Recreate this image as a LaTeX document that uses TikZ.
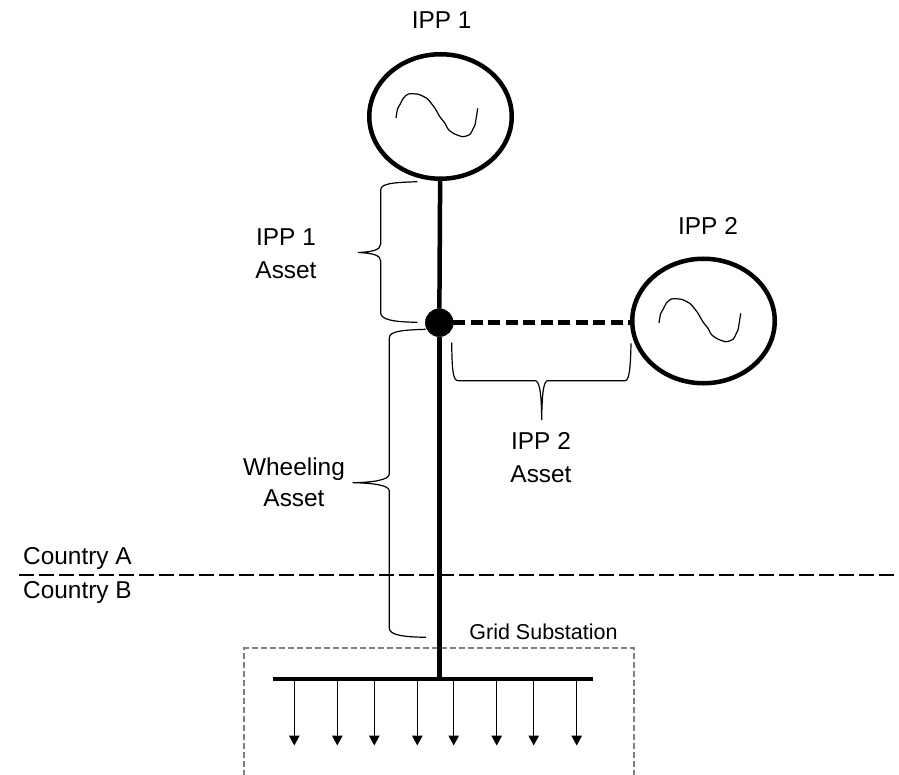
\documentclass[tikz,border=0pt]{standalone}
\usepackage{fontspec}
\setmainfont{Liberation Sans}
\usetikzlibrary{arrows.meta,shapes.geometric}
\definecolor{boxgray}{gray}{0.5}
\newcommand\SineShiftX{263}
\newcommand\SineShiftY{205}
\newcommand\SineWave{
    plot[smooth,tension=0.45] coordinates {(396,118) (397.5,109) (400,104.5) (403.3,98.3) (408.3,94) (418.3,94.3) (426.7,98.3) (431,103) (435,108.3) (440,117) (445,123.3) (448,129) (453.3,133.3) (462.7,136.7) (470,134.3) (473,129) (475,125) (477.7,108.3)}
}
\tikzset{
  generator/.style={
    shape = ellipse,
    draw,
    line width = 4.5pt,
    inner sep = 0pt,
    outer sep = 0pt,
    minimum width = 142.5pt,
    minimum height = 124.5pt
  },
  junction/.style={
    shape = circle,
    draw,
    fill,
    inner sep = 0pt,
    outer sep = 0pt,
    minimum size = 28pt
  },
  busbar/.style={
    shape = rectangle,
    fill,
    inner sep = 0pt,
    outer sep = 0pt,
    minimum width = 320pt,
    minimum height = 4.5pt
  },
  feeder/.style={line width = 4.5pt},
  spur/.style={line width = 4.5pt, dash pattern = on 12pt off 5.5pt},
  sine/.style={line width = 1.2pt},
  bracket/.style={line width = 1.2pt, rounded corners = 0pt},
  load/.style={line width = 1.3pt, -{Triangle[length=10pt,width=10.5pt]}},
  border/.style={line width = 1.3pt, dash pattern = on 15pt off 5pt},
  substation/.style={draw = boxgray, line width = 1.4pt, dash pattern = on 6pt off 3pt},
  label/.style={
    font = \fontsize{24.4}{33}\selectfont,
    align = center,
    inner sep = 0pt
  },
  smalllabel/.style={
    font = \fontsize{21.5}{26}\selectfont,
    inner sep = 0pt
  }
}
\begin{document}
\begin{tikzpicture}[x=1pt,y=-1pt]
    \useasboundingbox (0,0) rectangle (899,775);

    \draw[substation] (244,775.5) rectangle (634,648);

    \node[generator] (gen1) at (440.5,116.5) {};
    \node[generator] (gen2) at (703.5,321) {};
    \node[junction] (bus1) at (439.3,322.7) {};
    \node[busbar] (bus2) at (433,679) {};

    \draw[feeder] (gen1) -- (bus1);
    \draw[feeder] (bus1) -- (bus1 |- bus2);
    \draw[spur] (bus1) -- (bus1 -| gen2.west);

    \draw[sine] \SineWave;
    \draw[sine, shift={(\SineShiftX,\SineShiftY)}] \SineWave;

    \foreach \n/\x in {1/294.3,2/337.3,3/374.3,4/417.3,5/453.7,6/496.7,7/533.7,8/576.7}{
        \coordinate (top\n) at (\x,679);
        \coordinate (tip\n) at (\x,745.5);
        \draw[load] (top\n) -- (tip\n);
    }

    \coordinate (borderL) at (19,575);
    \coordinate (borderR) at (899,575);
    \draw[border] (borderL) -- (borderR);

    % braces
    \draw[bracket] (417.3,181.7) .. controls (395,182.5) and (380.7,183) .. (380.7,190) -- (380.7,244) .. controls (380.7,250) and (372,252) .. (358,252.5) .. controls (372,253) and (380.7,255) .. (380.7,261) -- (380.7,313) .. controls (380.7,320) and (395,322) .. (417.3,322.3);
    \draw[bracket] (425.7,329.3) .. controls (403,330) and (389.3,331) .. (389.3,338) -- (389.3,474) .. controls (389.3,480) and (372,482.5) .. (352.7,482.7) .. controls (372,483) and (389.3,485) .. (389.3,491) -- (389.3,628) .. controls (389.3,635) and (403,637) .. (426,637.3);
    \draw[bracket] (451.7,342.7) .. controls (452,370) and (453,380.7) .. (458,380.7) -- (535,380.7) .. controls (539,380.7) and (541.5,390) .. (541.7,420) .. controls (542,390) and (544,380.7) .. (548,380.7) -- (625,380.7) .. controls (629,380.7) and (630.5,370) .. (631,343.3);

    \node[label] (name1) at (441.7,19.7) {IPP 1};
    \node[label] (name2) at (708,225.7) {IPP 2};
    \node[label] (asset1) at (286,254) {IPP 1\\Asset};
    \node[label] (asset2) at (541,458) {IPP 2\\Asset};
    \node[label, font=\fontsize{24.4}{31}\selectfont] (wheel) at (294,482.5) {Wheeling\\Asset};
    \node[label, anchor=west] (countryA) at (23,559) {Country A};
    \node[label, anchor=west] (countryB) at (23,593) {Country B};
    \node[smalllabel] (grid) at (543.5,632) {Grid Substation};
\end{tikzpicture}
\end{document}
